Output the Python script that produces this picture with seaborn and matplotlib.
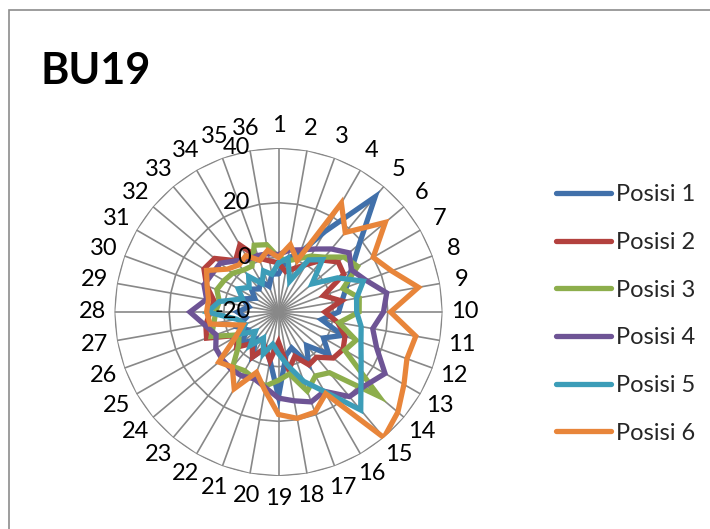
import numpy as np
import pandas as pd
import matplotlib
matplotlib.use("Agg")
import matplotlib.pyplot as plt
import seaborn as sns
from matplotlib.transforms import offset_copy

# Categories around the radar (1..36) and the radial scale
categories = [str(i) for i in range(1, 37)]
radial_ticks = [-20, 0, 20, 40]
series_names = ["Posisi 1", "Posisi 2", "Posisi 3", "Posisi 4", "Posisi 5", "Posisi 6"]

posisi_1 = [-6, 0, 3, 14, 35, 18.6, 10.8, 6.4, 3.6, 2, -4, 5, -1, 4, -4, 2, -6, -4,
            11, -2, -6, -1, -7, -2, -7, -4, -8, -5, -9, -6, -10, -7, -9, -7, -10, -6]
posisi_2 = [-2, -5, -3, 0, 4.8, 8.5, 7.6, -2.5, 3.4, -3, 2, 5.9, 7.3, 6.2, 1.6, 2.3, -2.7, 1.5,
            -9, -2, -6, -1, -5, 0, -3, 8, 7, 5, 4, 8, 11.5, 10.5, 4.5, 8.3, 1, -1]
posisi_3 = [0, -1, 0.7, 3.6, 6.2, 11.3, 13.4, 5.1, 10, 9.5, 2.5, 10.2, 8, 27.9, 9, 7, 10.8, 3,
            5, 7.5, 5.9, 4.8, 6, -1, -3.3, 6.2, 4, 3, 2, 4, 3, 2, 0, -0.6, 6, 5]
posisi_4 = [1, 3, 4.2, 6.6, 10.1, 13.7, 10.8, 14, 20.2, 18.4, 15, 18.2, 25, 21.7, 20.4, 13.5, 15, 13,
            11.5, 8, 6, 7, 7.2, 6.9, 6.5, 4.3, 7.4, 12.4, 6.7, 9, 8, 7.8, 4.4, 2.2, 2, 1.7]
posisi_5 = [-2, 0, -8, 2, 5, -4, 5, 13, 9, 8.6, 10.7, 12.1, 14.9, 19.4, 26.8, 13.6, 7, 0,
            -4.8, -8, -3.7, -9, -4, -9, -4, -7, -4.6, 6, 2, -6, -3, -6, -3, -8, -4, -6]
posisi_6 = [0, 5, 0, 26, 18, 31, 20, 24, 32, 21, 31, 30, 33, 37, 40, 14.5, 19, 19.5,
            17.5, 9, 3.5, 12.4, 6.3, 8.5, -2, -6, 5.4, 6.3, 6, 7.8, 10.4, 4.4, 2.5, 3.8, 0.1, 2.9]

series_values = [posisi_1, posisi_2, posisi_3, posisi_4, posisi_5, posisi_6]
colors = ["#4170AA", "#B3413E", "#8DAE4C", "#6E5495", "#3C9DB8", "#E8853A"]

sns.set_theme(style="white")
plt.rcParams["font.family"] = ["Lato", "DejaVu Sans"]
plt.rcParams["lines.solid_joinstyle"] = "miter"

n = len(categories)
angles = np.deg2rad(np.arange(n) * 360.0 / n)
closed_angles = np.append(angles, 2 * np.pi)

# Long table: each series closed back onto its first category
rows = []
for name, vals in zip(series_names, series_values):
    for k in range(n + 1):
        rows.append({"theta": closed_angles[k], "value": vals[k % n], "series": name})
df = pd.DataFrame(rows)

W, H = 710, 529
cx, cy, R = 278.5, 312, 164
fig = plt.figure(figsize=(W / 100, H / 100), dpi=100)
fig.patch.set_facecolor("white")

ax = fig.add_axes([(cx - R) / W, (H - cy - R) / H, 2 * R / W, 2 * R / H], projection="polar")
ax.set_theta_zero_location("N")
ax.set_theta_direction(-1)
ax.grid(False)
ax.spines["polar"].set_visible(False)
ax.set_facecolor("none")

grid_color = "#888888"
for r in radial_ticks[1:]:
    ax.plot(closed_angles, [r] * (n + 1), color=grid_color, lw=1.2, zorder=1)
for a in angles:
    ax.plot([a, a], [-20, 40], color=grid_color, lw=1.2, zorder=1)

sns.lineplot(data=df, x="theta", y="value", hue="series", hue_order=series_names,
             palette=colors, sort=False, estimator=None, lw=3.8, ax=ax, zorder=3)

ax.set_ylim(-20, 40)
ax.set_xticks([])
ax.set_yticks([])
ax.set_xlabel("")
ax.set_ylabel("")

label_font = 17
for a, lab in zip(angles, categories):
    ax.text(a, 48.2, lab, ha="center", va="center", fontsize=label_font,
            color="black", clip_on=False)

tick_trans = offset_copy(ax.transData, fig=fig, x=-28, y=0, units="dots")
for v in radial_ticks:
    ax.text(0, v, str(v), transform=tick_trans, ha="right", va="center",
            fontsize=label_font, color="black", zorder=10)

sns.move_legend(ax, loc="center left", bbox_to_anchor=(556 / W, 1 - 314 / H),
                bbox_transform=fig.transFigure, frameon=False, title=None,
                fontsize=17, handlelength=2.33, handletextpad=0.2,
                labelspacing=1.13, borderpad=0, borderaxespad=0)

fig.text(40 / W, 1 - 71 / H, "BU19", fontsize=31, fontweight="bold",
         ha="left", va="center", color="black")

# chart-area border (top and left edges visible)
fig.add_artist(plt.Rectangle((9 / W, -0.1), 1.2, 1.1 - 10 / H, transform=fig.transFigure,
                             fill=False, edgecolor="#8c8c8c", lw=1.2))

fig.savefig("out.png", dpi=100, facecolor="white")
